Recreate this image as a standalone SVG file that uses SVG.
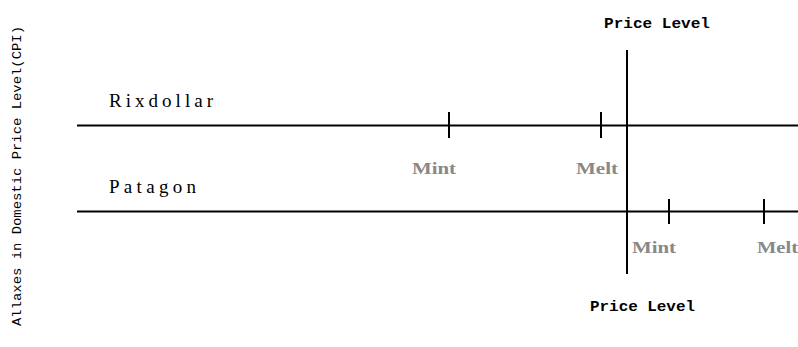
<svg xmlns="http://www.w3.org/2000/svg" width="798" height="347" viewBox="0 0 798 347">
<style>
.ln{stroke:#000;stroke-width:2;fill:none}
.tk{stroke:#000;stroke-width:2}
.lbl{font-family:"Liberation Serif",serif;font-size:19px;fill:#000}
.pl{font-family:"Liberation Mono",monospace;font-size:14px;font-weight:bold;fill:#000}
.mm{font-family:"Liberation Serif",serif;font-size:16px;fill:#888;font-weight:bold}
.ax{font-family:"Liberation Mono",monospace;font-size:12.5px;fill:#000}
</style>
<rect width="798" height="347" fill="#fff"/>
<g id="connectors">
<line class="ln" x1="77" y1="125.5" x2="798" y2="125.5"/>
<line class="ln" x1="77" y1="211.5" x2="798" y2="211.5"/>
<line class="ln" x1="627" y1="50" x2="627" y2="274"/>
<line class="tk" x1="449" y1="112" x2="449" y2="138"/>
<line class="tk" x1="601" y1="112" x2="601" y2="138"/>
<line class="tk" x1="669" y1="199" x2="669" y2="224"/>
<line class="tk" x1="764" y1="199" x2="764" y2="224"/>
</g>
<g id="rixdollar"><text class="lbl" x="109" y="107" textLength="104" lengthAdjust="spacing">Rixdollar</text></g>
<g id="patagon"><text class="lbl" x="109" y="193" textLength="87" lengthAdjust="spacing">Patagon</text></g>
<g id="price-top"><text class="pl" x="604" y="28" textLength="106" lengthAdjust="spacingAndGlyphs">Price Level</text></g>
<g id="price-bottom"><text class="pl" x="590" y="311" textLength="105" lengthAdjust="spacingAndGlyphs">Price Level</text></g>
<g id="mint1"><text class="mm" x="412" y="174" textLength="44" lengthAdjust="spacingAndGlyphs">Mint</text></g>
<g id="melt1"><text class="mm" x="576" y="174" textLength="42" lengthAdjust="spacingAndGlyphs">Melt</text></g>
<g id="mint2"><text class="mm" x="632" y="253" textLength="44" lengthAdjust="spacingAndGlyphs">Mint</text></g>
<g id="melt2"><text class="mm" x="757" y="253" textLength="41" lengthAdjust="spacingAndGlyphs">Melt</text></g>
<g id="axis"><text class="ax" transform="translate(21,326) rotate(-90)" textLength="300" lengthAdjust="spacingAndGlyphs">Allaxes in Domestic Price Level(CPI)</text></g>
</svg>
